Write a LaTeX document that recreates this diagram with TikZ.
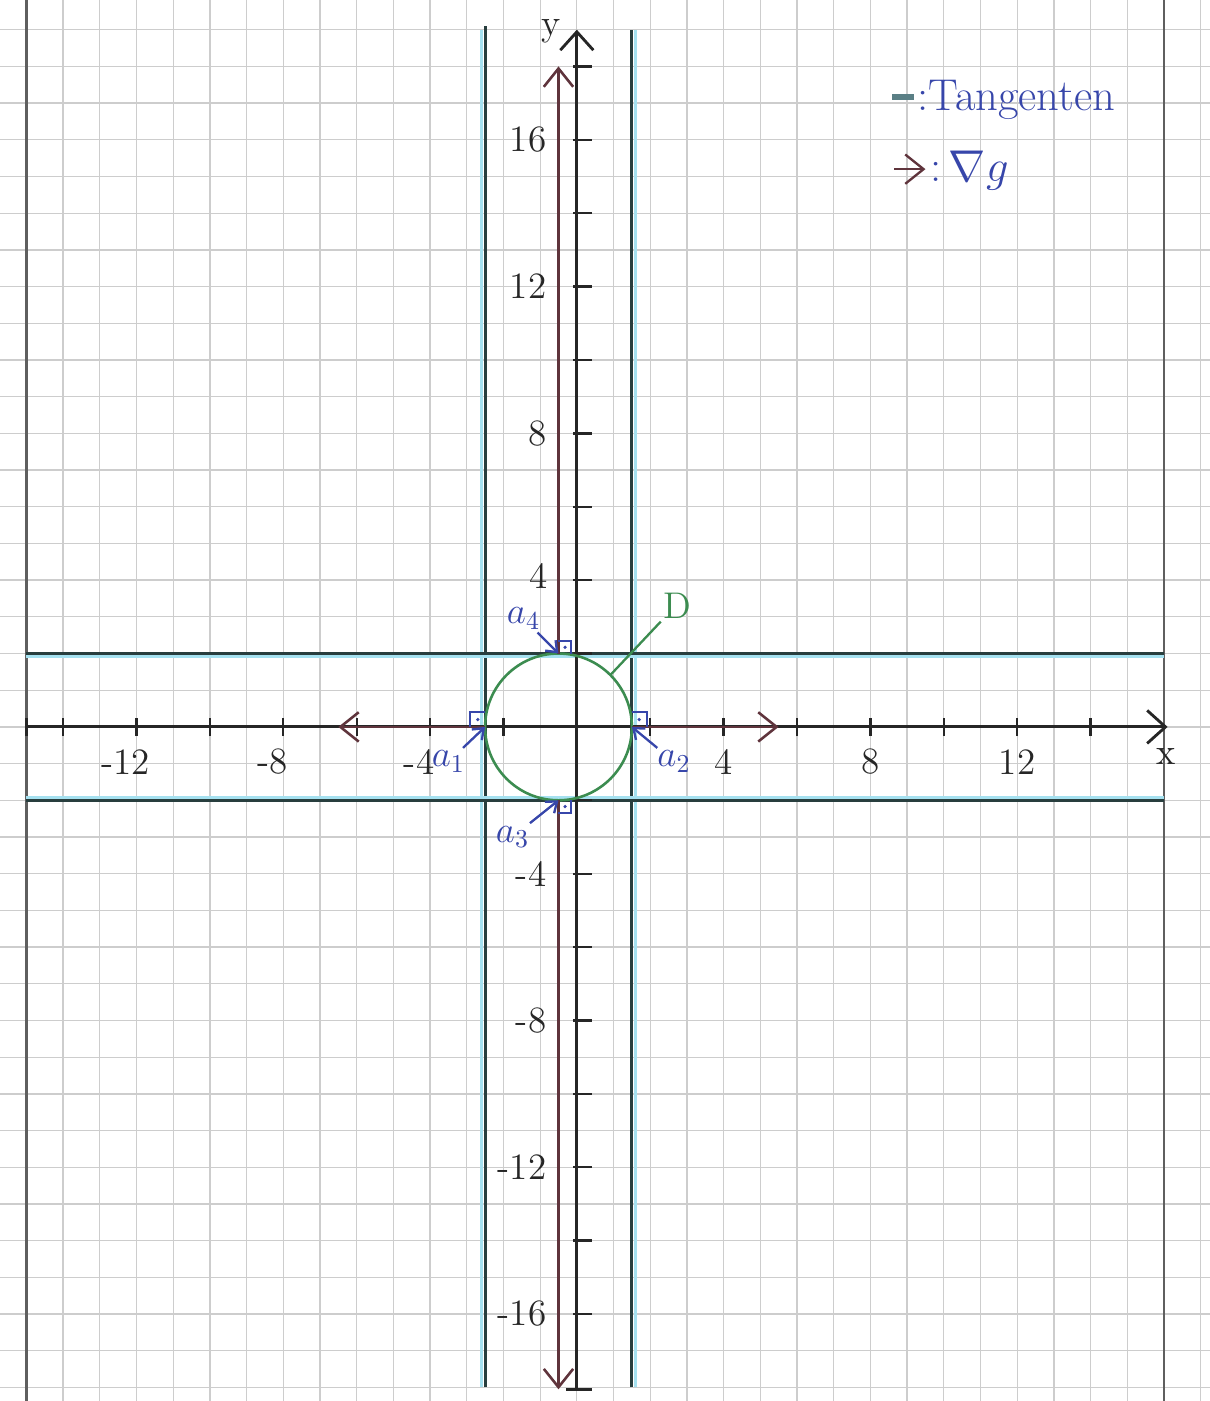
\documentclass[tikz,border=0pt]{standalone}
\usetikzlibrary{arrows.meta}
\definecolor{gridgray}{RGB}{205,205,205}
\definecolor{pagegray}{RGB}{95,95,95}
\definecolor{tangcol}{RGB}{40,62,62}
\definecolor{tangglow}{RGB}{165,225,240}
\definecolor{gradcol}{RGB}{95,52,60}
\definecolor{penblue}{RGB}{55,70,170}
\definecolor{circgreen}{RGB}{60,140,80}
\tikzset{
  axis/.style={line width=1.1pt, black!85},
  tangent/.style={line width=1.1pt, tangcol},
  glow/.style={line width=1.2pt, tangglow},
  grad/.style={line width=1pt, gradcol, -{Straight Barb[length=2.5mm,width=4mm]}},
  lbl/.style={penblue, font=\Large, inner sep=1pt},
  pointer/.style={penblue, line width=0.9pt, -{Straight Barb[length=1.3mm,width=2mm]}},
  rangle/.style={penblue, line width=0.8pt},
  ticklbl/.style={font=\Large, black!85, inner sep=1pt},
}
\begin{document}
\begin{tikzpicture}[scale=0.5]
\useasboundingbox (-15.72,-18.37) rectangle (17.25,19.81);
% squared paper
\draw[gridgray, line width=0.5pt, step=1] (-16,-19) grid (18,20);
\draw[pagegray, line width=0.9pt] (-15,-18.37) -- (-15,19.81);
\draw[pagegray, line width=0.9pt] (16,-18.37) -- (16,19.81);
% tangents
\draw[glow] (-2.6,-18) -- (-2.6,19);
\draw[tangent] (-2.5,-18) -- (-2.5,19.1);
\draw[glow] (1.6,-18) -- (1.6,19);
\draw[tangent] (1.5,-18) -- (1.5,19);
\draw[glow] (-15,1.92) -- (16,1.92);
\draw[tangent] (-15,2) -- (16,2);
\draw[glow] (-15,-1.93) -- (16,-1.93);
\draw[tangent] (-15,-2) -- (16,-2);
% axes
\draw[axis, -{Straight Barb[length=2.5mm,width=4.5mm]}] (-15,0) -- (16.1,0);
\draw[axis, -{Straight Barb[length=2.5mm,width=4.5mm]}] (0,-18.05) -- (0,19);
\draw[axis] (-0.3,-18.05) -- (0.4,-18.05);
\foreach \k in {-15,-14,-12,...,14}
  \draw[axis, line width=0.9pt] (\k,-0.25) -- (\k,0.25);
\foreach \k in {-16,-14,...,-2,2,4,...,18}
  \draw[axis, line width=0.9pt] (-0.1,\k) -- (0.4,\k);
\foreach \k in {-12,-8,-4}
  \node[ticklbl] (xl\k) at (\k-0.3,-0.95) {\k};
\foreach \k in {4,8,12}
  \node[ticklbl] (xl\k) at (\k,-0.95) {\k};
\foreach \k in {-16,-12,-8,-4,8,12,16}
  \node[ticklbl, anchor=east] (yl\k) at (-0.75,\k) {\k};
\node[ticklbl, anchor=east] (yl4) at (-0.7,4.1) {4};
\node[ticklbl] (ylab) at (-0.7,18.95) {y};
\node[ticklbl] (xlab) at (16.05,-0.8) {x};
% circle D
\draw[circgreen, line width=1pt] (-0.5,0) circle (2);
\coordinate (dpt) at (0.91,1.41);
\node[circgreen, font=\Large, inner sep=1pt] (dlab) at (2.75,3.3) {D};
\draw[circgreen, line width=0.9pt] (dpt) -- (dlab.south west);
% points of contact and gradients
\coordinate (a1) at (-2.5,0);
\coordinate (a2) at (1.5,0);
\coordinate (a3) at (-0.5,-2);
\coordinate (a4) at (-0.5,2);
\coordinate (g1) at (-6.5,0);
\coordinate (g2) at (5.5,0);
\coordinate (g3) at (-0.5,-18.05);
\coordinate (g4) at (-0.5,18);
\draw[grad] (a1) -- (g1);
\draw[grad] (a2) -- (g2);
\draw[grad] (a3) -- (g3);
\draw[grad] (a4) -- (g4);
\draw[rangle] (-2.5,0.4) -- (-2.9,0.4) -- (-2.9,0);
\fill[penblue] (-2.7,0.2) circle (0.05);
\draw[rangle] (1.5,0.4) -- (1.9,0.4) -- (1.9,0);
\fill[penblue] (1.7,0.2) circle (0.05);
\draw[rangle] (-0.5,2.35) -- (-0.15,2.35) -- (-0.15,2);
\fill[penblue] (-0.32,2.17) circle (0.05);
\draw[rangle] (-0.5,-2.35) -- (-0.15,-2.35) -- (-0.15,-2);
\fill[penblue] (-0.32,-2.17) circle (0.05);
\node[lbl] (la1) at (-3.5,-0.95) {$a_1$};
\node[lbl] (la2) at (2.65,-0.95) {$a_2$};
\node[lbl] (la3) at (-1.75,-3.0) {$a_3$};
\node[lbl] (la4) at (-1.45,2.95) {$a_4$};
\draw[pointer] (la1) -- (a1);
\draw[pointer] (la2) -- (a2);
\draw[pointer] (la3) -- (a3);
\draw[pointer] (la4) -- (a4);
% legend
\draw[line width=2.5pt, tangglow!40!tangcol] (8.6,17.17) -- (9.2,17.17);
\node[lbl, font=\LARGE, anchor=west] (legtang) at (9.2,17.1) {:Tangenten};
\draw[grad, line width=0.9pt] (8.65,15.2) -- (9.5,15.2);
\node[lbl, font=\LARGE, anchor=west] (leggrad) at (9.55,15.15) {:\,$\nabla g$};
\end{tikzpicture}
\end{document}
